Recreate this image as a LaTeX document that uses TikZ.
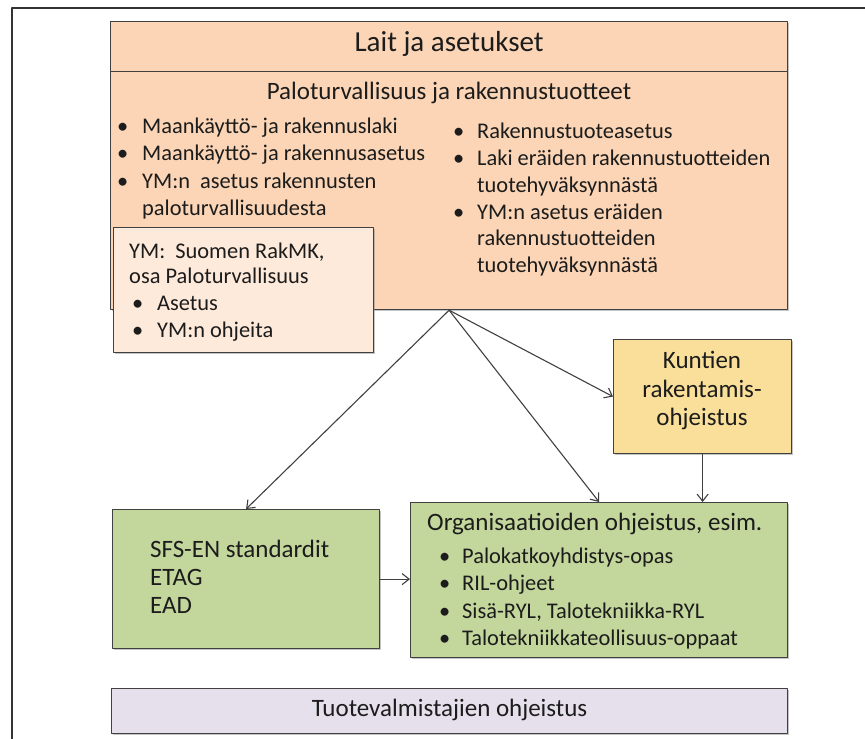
\documentclass[tikz,border=0pt]{standalone}
\usepackage{fontspec}
\setmainfont{Carlito}
\usetikzlibrary{arrows.meta,shadows}
\definecolor{peach}{HTML}{FBD5B5}
\definecolor{peachlt}{HTML}{FDEADA}
\definecolor{gold}{HTML}{F9DF9A}
\definecolor{olive}{HTML}{C3D69B}
\definecolor{lilac}{HTML}{E5E0EC}
\definecolor{edge}{HTML}{404040}
\definecolor{ink}{HTML}{1C1C1C}
\begin{document}
\begin{tikzpicture}[x=1pt, y=-1pt, line join=round, >={Straight Barb[length=7pt,width=11pt]}]
	\tikzset{box/.style={draw=edge, line width=1.2pt, inner sep=0pt, anchor=north west,
			drop shadow={shadow xshift=1.2pt, shadow yshift=-1.2pt, fill=black!45}},
		txt/.style={inner sep=0pt, anchor=west, text height=15pt, text depth=5pt, text=ink, font=\fontsize{22.4}{26}\selectfont},
		big/.style={txt, font=\fontsize{25}{29}\selectfont},
		conn/.style={draw=edge, line width=1.1pt, ->}}
	\useasboundingbox (0,0) rectangle (865,739);
	\draw[line width=2pt, draw=black!80] (865,8) -- (12,8) -- (12,739);
	% boxes
	\node[box, fill=peach, minimum width=677pt, minimum height=50pt] (laws) at (110,21) {};
	\node[box, fill=peach, minimum width=677pt, minimum height=238pt] (palo) at (110,71) {};
	\node[box, fill=peachlt, minimum width=260pt, minimum height=125pt] (ym) at (113,227) {};
	\node[box, fill=gold, minimum width=178pt, minimum height=114pt] (kunnat) at (613,339) {};
	\node[box, fill=olive, minimum width=267pt, minimum height=139pt] (sfs) at (112,509) {};
	\node[box, fill=olive, minimum width=377pt, minimum height=155pt] (org) at (410,502) {};
	\node[box, fill=lilac, minimum width=676pt, minimum height=45pt] (tuote) at (111,688) {};
	% titles
	\node[big, anchor=center, font=\fontsize{29}{33}\selectfont] (lawsT) at (laws) {Lait ja asetukset};
	\node[big, anchor=center] (paloT) at (449,94) {Paloturvallisuus ja rakennustuotteet};
	\node[big, anchor=center] (tuoteT) at (tuote) {Tuotevalmistajien ohjeistus};
	\node[big] (orgT) at (427,525) {Organisaatioiden ohjeistus, esim.};
	\node[big, anchor=center] (kunnatT) at (702,363) {Kuntien};
	\node[big, anchor=center] (kunnatT2) at (702,392) {rakentamis-};
	\node[big, anchor=center] (kunnatT3) at (702,420) {ohjeistus};
	% laws, left column
	\foreach \y/\t [count=\i] in {128/Maankäyttö- ja rakennuslaki, 155/Maankäyttö- ja rakennusasetus, 183/YM:n~ asetus rakennusten}
		{\node[txt] (lb\i) at (117,\y) {•};
		 \node[txt] (lt\i) at (142,\y) {\t};}
	\node[txt] (lt4) at (142,210) {paloturvallisuudesta};
	% laws, right column
	\foreach \y/\t [count=\i] in {133/Rakennustuoteasetus, 160/Laki eräiden rakennustuotteiden, 214/YM:n asetus eräiden}
		{\node[txt] (rb\i) at (453,\y) {•};
		 \node[txt] (rt\i) at (477,\y) {\t};}
	\node[txt] (rc1) at (477,187) {tuotehyväksynnästä};
	\node[txt] (rc2) at (477,240) {rakennustuotteiden};
	\node[txt] (rc3) at (477,267) {tuotehyväksynnästä};
	% YM box
	\node[txt] (ym1) at (129,253) {YM:~ Suomen RakMK,};
	\node[txt] (ym2) at (129,278) {osa Paloturvallisuus};
	\foreach \y/\t [count=\i] in {305/Asetus, 332/YM:n ohjeita}
		{\node[txt] (yb\i) at (132,\y) {•};
		 \node[txt] (yt\i) at (157,\y) {\t};}
	% standards
	\foreach \y/\t [count=\i] in {552/SFS-EN standardit, 580/ETAG, 608/EAD}
		\node[big] (st\i) at (150,\y) {\t};
	% organisations
	\foreach \y/\t [count=\i] in {558/Palokatkoyhdistys-opas, 585/RIL-ohjeet, 613/{Sisä-RYL, Talotekniikka-RYL}, 640/Talotekniikkateollisuus-oppaat}
		{\node[txt] (ob\i) at (439,\y) {•};
		 \node[txt] (ot\i) at (462,\y) {\t};}
	% arrows
	\draw[conn] (palo.south) -- (sfs.north);
	\draw[conn] (palo.south) -- (org.north);
	\draw[conn] (palo.south) -- (kunnat.west);
	\draw[conn] (kunnat.south) -- (kunnat.south |- org.north);
	\draw[conn] (sfs.east) -- (sfs.east -| org.west);
\end{tikzpicture}
\end{document}
